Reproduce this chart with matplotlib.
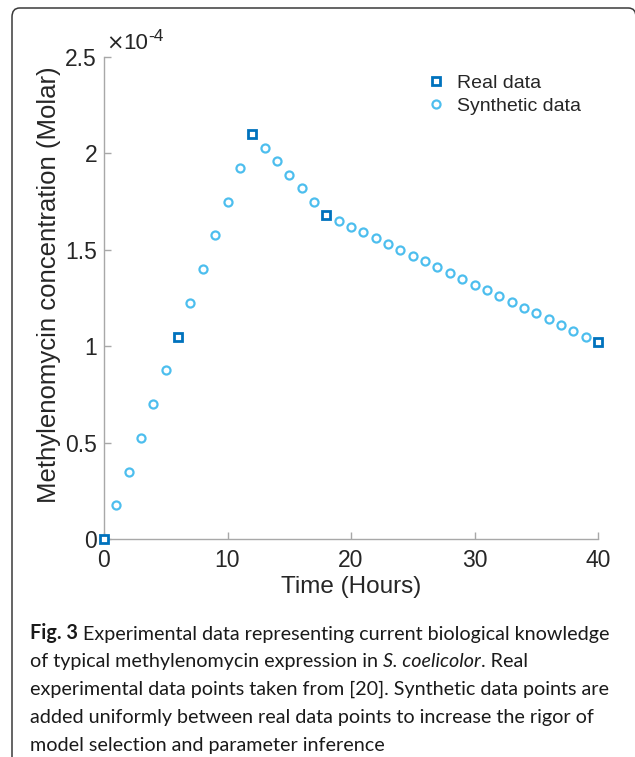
import matplotlib
matplotlib.use("Agg")
import matplotlib.pyplot as plt
from matplotlib.patches import FancyBboxPatch

# ---- data (concentration in units of 1e-4 Molar) ----
real_t = [0, 6, 12, 18, 40]
real_c = [0.0, 1.05, 2.10, 1.68, 1.02]

synth_t = [1, 2, 3, 4, 5,
           7, 8, 9, 10, 11,
           13, 14, 15, 16, 17,
           19, 20, 21, 22, 23, 24, 25, 26, 27, 28, 29, 30,
           31, 32, 33, 34, 35, 36, 37, 38, 39]
synth_c = [0.175, 0.35, 0.525, 0.70, 0.875,
           1.225, 1.40, 1.575, 1.75, 1.925,
           2.03, 1.96, 1.89, 1.82, 1.75,
           1.65, 1.62, 1.59, 1.56, 1.53, 1.50, 1.47, 1.44, 1.41, 1.38, 1.35, 1.32,
           1.29, 1.26, 1.23, 1.20, 1.17, 1.14, 1.11, 1.08, 1.05]

xticks = [0, 10, 20, 30, 40]
yticks = [0, 0.5, 1, 1.5, 2, 2.5]
ytick_labels = ["0", "0.5", "1", "1.5", "2", "2.5"]
legend_labels = ["Real data", "Synthetic data"]
xlabel = "Time (Hours)"
ylabel = "Methylenomycin concentration (Molar)"

W, H = 635, 757
fig = plt.figure(figsize=(W / 100, H / 100), dpi=100)
plt.rcParams['font.family'] = ['Liberation Sans', 'DejaVu Sans']

# rounded frame
frame = FancyBboxPatch((12 / W, -0.2), (636 - 12) / W, (H - 8) / H + 0.2,
                       boxstyle="round,pad=0,rounding_size=0.012",
                       transform=fig.transFigure, facecolor="none",
                       edgecolor="#3a3a3a", linewidth=1.1)
fig.patches.append(frame)

ax = fig.add_axes([104 / W, 1 - 539 / H, (598 - 104) / W, (539 - 57) / H])
axis_col = "#a8a8a8"
text_col = "#262626"

ax.plot(synth_t, synth_c, linestyle="none", marker="o", markersize=5.8,
        markerfacecolor="white", markeredgecolor="#4DBEEE", markeredgewidth=1.6,
        label=legend_labels[1], zorder=3)
ax.plot(real_t, real_c, linestyle="none", marker="s", markersize=5.2,
        markerfacecolor="white", markeredgecolor="#0072BD", markeredgewidth=2.0,
        label=legend_labels[0], zorder=4, clip_on=False)

ax.set_xlim(0, 40)
ax.set_ylim(0, 2.5)
ax.set_xticks(xticks)
ax.set_xticklabels([str(v) for v in xticks])
ax.set_yticks(yticks)
ax.set_yticklabels(ytick_labels)
for s in ["top", "right"]:
    ax.spines[s].set_visible(False)
for s in ["left", "bottom"]:
    ax.spines[s].set_color(axis_col)
    ax.spines[s].set_linewidth(1.0)
ax.tick_params(direction="in", length=5, width=1.0, color=axis_col,
               labelcolor=text_col, labelsize=16.5)
ax.tick_params(axis="x", pad=7)
ax.tick_params(axis="y", pad=5)

ax.set_xlabel(xlabel, fontsize=17.5, color=text_col, labelpad=3)
ax.set_ylabel(ylabel, fontsize=18.5, color=text_col)
ax.yaxis.set_label_coords(-0.088, 0.527)

# x10^-4 multiplier
t0 = ax.text(0.004, 1.006, "\u00d7", transform=ax.transAxes, family=['DejaVu Sans'],
             fontsize=15, color=text_col, ha="left", va="bottom")
t1 = ax.annotate("10", xy=(1, 0), xycoords=t0, fontsize=16, color=text_col,
                 ha="left", va="bottom", annotation_clip=False)
ax.annotate("-4", xy=(1, 0.5), xycoords=t1, fontsize=12.5, color=text_col,
            ha="left", va="bottom", annotation_clip=False)

handles, labels = ax.get_legend_handles_labels()
order = [1, 0]
leg = ax.legend([handles[i] for i in order], [labels[i] for i in order],
                loc="upper left", bbox_to_anchor=(0.617, 1.0), frameon=False,
                fontsize=14, handlelength=1.0, handletextpad=0.6,
                labelspacing=0.25, labelcolor=text_col)

# caption
cap_font = ['Lato', 'DejaVu Sans']
cap_size = 14.2
cap_col = "#1a1a1a"
x0 = 30 / W
line_y = [639, 667, 695, 723, 751]

def chain(y, pieces):
    prev = None
    for txt, kw in pieces:
        if prev is None:
            prev = fig.text(x0, 1 - y / H, txt, fontsize=cap_size, color=cap_col,
                            family=cap_font, va="baseline", ha="left", **kw)
        else:
            prev = ax.annotate(txt, xy=(1, 0), xycoords=prev, va="bottom",
                               ha="left", fontsize=cap_size, color=cap_col,
                               family=cap_font, annotation_clip=False, **kw)
    return prev

chain(line_y[0], [("Fig. 3", dict(fontweight="bold")),
                  (" Experimental data representing current biological knowledge", {})])
chain(line_y[1], [("of typical methylenomycin expression in ", {}),
                  ("S. coelicolor", dict(style="italic")),
                  (". Real", {})])
chain(line_y[2], [("experimental data points taken from [20]. Synthetic data points are", {})])
chain(line_y[3], [("added uniformly between real data points to increase the rigor of", {})])
chain(line_y[4], [("model selection and parameter inference", {})])

fig.savefig("out.png", dpi=100)
